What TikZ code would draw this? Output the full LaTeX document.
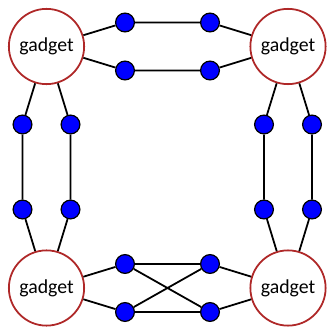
\documentclass[tikz,border=0pt]{standalone}
\usepackage{fontspec}
\setmainfont{Carlito}
\definecolor{ring}{RGB}{175,40,40}
\begin{document}
\begin{tikzpicture}[x=0.505pt,y=-0.505pt,
  gadget/.style={circle,draw=ring,line width=0.9pt,minimum size=38pt,inner sep=0pt,font=\fontsize{10}{12}\selectfont},
  dot/.style={circle,draw=black,fill=blue,line width=0.6pt,minimum size=9.5pt,inner sep=0pt},
  edge/.style={line width=0.9pt}]
\useasboundingbox (0,0) rectangle (327,327);
\node[gadget] (g1) at (46.5,46.5) {gadget};
\node[gadget] (g2) at (288,46.5) {gadget};
\node[gadget] (g3) at (46.5,288) {gadget};
\node[gadget] (g4) at (288,288) {gadget};
% top
\node[dot] (t1) at (125,22.5) {};
\node[dot] (t2) at (210,22.5) {};
\node[dot] (t3) at (125,70.5) {};
\node[dot] (t4) at (210,70.5) {};
% bottom
\node[dot] (b1) at (125,264) {};
\node[dot] (b2) at (210,264) {};
\node[dot] (b3) at (125,312) {};
\node[dot] (b4) at (210,312) {};
% left
\node[dot] (l1) at (22.5,124.5) {};
\node[dot] (l2) at (70.5,124.5) {};
\node[dot] (l3) at (22.5,209.5) {};
\node[dot] (l4) at (70.5,209.5) {};
% right
\node[dot] (r1) at (264,124.5) {};
\node[dot] (r2) at (312,124.5) {};
\node[dot] (r3) at (264,209.5) {};
\node[dot] (r4) at (312,209.5) {};
\begin{scope}[edge]
\draw (g1) -- (t1) -- (t2) -- (g2);
\draw (g1) -- (t3) -- (t4) -- (g2);
\draw (g3) -- (b1) -- (b2) -- (g4);
\draw (g3) -- (b3) -- (b4) -- (g4);
\draw (b1) -- (b4);
\draw (b3) -- (b2);
\draw (g1) -- (l1) -- (l3) -- (g3);
\draw (g1) -- (l2) -- (l4) -- (g3);
\draw (g2) -- (r1) -- (r3) -- (g4);
\draw (g2) -- (r2) -- (r4) -- (g4);
\end{scope}
\end{tikzpicture}
\end{document}
